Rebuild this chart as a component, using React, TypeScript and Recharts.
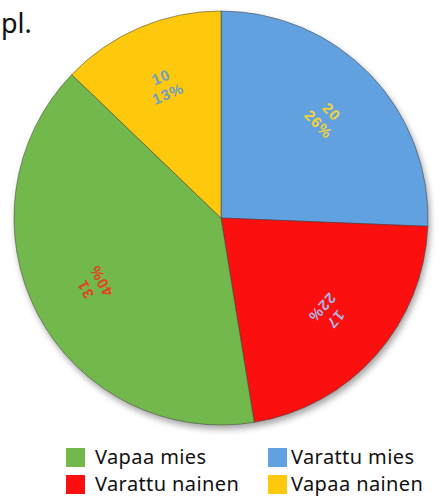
import React from 'react';
import { PieChart, Pie, Cell, Legend } from 'recharts';

const categories = ['Varattu mies', 'Varattu nainen', 'Vapaa mies', 'Vapaa nainen'];
const values = [20, 17, 31, 10];
const legendOrder = ['Vapaa mies', 'Varattu mies', 'Varattu nainen', 'Vapaa nainen'];
const titleText = 'pl.';

const sliceColors: Record<string, string> = {
  'Varattu mies': '#62a1e0',
  'Varattu nainen': '#fb0f0f',
  'Vapaa mies': '#72b84c',
  'Vapaa nainen': '#fec80c',
};
const labelColors: Record<string, string> = {
  'Varattu mies': '#f2d23a',
  'Varattu nainen': '#aab6e2',
  'Vapaa mies': '#e4421c',
  'Vapaa nainen': '#6f9fc6',
};

const data = categories.map((name, i) => ({ name, value: values[i] }));
const total = values.reduce((a, b) => a + b, 0);

const RADIAN = Math.PI / 180;

const renderLabel = (props: any) => {
  const { cx, cy, midAngle, outerRadius, value, name } = props;
  const r = outerRadius * 0.7;
  const x = cx + r * Math.cos(-midAngle * RADIAN);
  const y = cy + r * Math.sin(-midAngle * RADIAN);
  const rot = 90 - midAngle;
  const pct = Math.round((value / total) * 100);
  return (
    <text
      transform={`translate(${x},${y}) rotate(${rot})`}
      textAnchor="middle"
      fill={labelColors[name]}
      fontFamily="Liberation Sans, Arial, sans-serif"
      fontWeight="bold"
      fontSize={15}
      style={{ letterSpacing: 1 }}
    >
      <tspan x={0} y={-3}>{value}</tspan>
      <tspan x={0} y={15}>{pct}%</tspan>
    </text>
  );
};

const renderLegend = () => {
  const pos = [
    { left: 66, top: 443 },
    { left: 268, top: 443 },
    { left: 66, top: 470 },
    { left: 268, top: 470 },
  ];
  return (
    <div style={{ position: 'relative', width: 442, height: 58 }}>
      {legendOrder.map((name, i) => (
        <div
          key={name}
          style={{
            position: 'absolute',
            left: pos[i].left,
            top: pos[i].top - 440,
            display: 'flex',
            alignItems: 'center',
            height: 27,
            whiteSpace: 'nowrap',
          }}
        >
          <div style={{ width: 19, height: 19, background: sliceColors[name], marginRight: i % 2 === 0 ? 10 : 4, marginTop: 2 }} />
          <span style={{ fontFamily: 'Noto Sans, Open Sans, sans-serif', fontSize: 20, letterSpacing: 0.4, color: '#111', lineHeight: '27px' }}>{name}</span>
        </div>
      ))}
    </div>
  );
};

export default function App() {
  return (
    <div style={{ position: 'absolute', left: 0, top: 0, width: 442, height: 498, background: '#fff' }}>
      <style>{`.recharts-pie { filter: drop-shadow(2px 4px 3px rgba(0,0,0,0.35)); }`}</style>
      <PieChart width={442} height={498} margin={{ top: 0, right: 0, bottom: 0, left: 0 }}>
        <text x={1} y={33} fontFamily="Noto Sans, Open Sans, sans-serif" fontSize={27} fill="#111">
          {titleText}
        </text>
        <Pie
          data={data}
          dataKey="value"
          nameKey="name"
          cx={221}
          cy={218}
          outerRadius={207}
          startAngle={90}
          endAngle={-270}
          label={renderLabel}
          labelLine={false}
          isAnimationActive={false}
          stroke="rgba(60,60,60,0.5)"
          strokeWidth={1}
        >
          {data.map((d) => (
            <Cell key={d.name} fill={sliceColors[d.name]} />
          ))}
        </Pie>
        <Legend
          content={renderLegend}
          wrapperStyle={{ position: 'absolute', left: 0, top: 440, width: 442, height: 58 }}
        />
      </PieChart>
    </div>
  );
}
